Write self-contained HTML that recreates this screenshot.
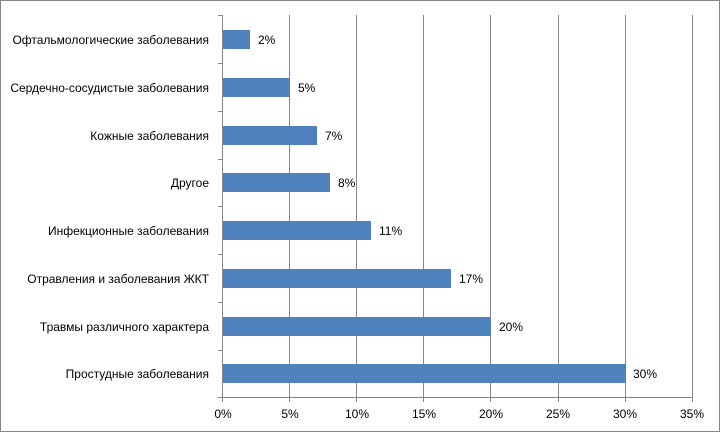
<!DOCTYPE html>
<html><head><meta charset="utf-8"><style>
body{margin:0;background:#fff}
svg{display:block;font-family:"Liberation Sans",sans-serif;font-size:12px}
</style></head><body>
<svg width="721" height="433" xmlns="http://www.w3.org/2000/svg">
<rect x="0.5" y="0.5" width="719" height="431" fill="#fff" stroke="#868686"/>
<g stroke="#868686" stroke-width="1">
<line x1="289.5" y1="15" x2="289.5" y2="402"/>
<line x1="356.5" y1="15" x2="356.5" y2="402"/>
<line x1="423.5" y1="15" x2="423.5" y2="402"/>
<line x1="490.5" y1="15" x2="490.5" y2="402"/>
<line x1="558.5" y1="15" x2="558.5" y2="402"/>
<line x1="625.5" y1="15" x2="625.5" y2="402"/>
<line x1="692.5" y1="15" x2="692.5" y2="402"/>
<line x1="222.5" y1="15" x2="222.5" y2="402"/>
<line x1="218" y1="397.5" x2="692.5" y2="397.5"/>
<line x1="218" y1="15.5" x2="222" y2="15.5"/>
<line x1="218" y1="63.5" x2="222" y2="63.5"/>
<line x1="218" y1="111.5" x2="222" y2="111.5"/>
<line x1="218" y1="159.5" x2="222" y2="159.5"/>
<line x1="218" y1="206.5" x2="222" y2="206.5"/>
<line x1="218" y1="254.5" x2="222" y2="254.5"/>
<line x1="218" y1="302.5" x2="222" y2="302.5"/>
<line x1="218" y1="350.5" x2="222" y2="350.5"/>
</g>
<g fill="#4f81bd">
<rect x="223" y="30" width="27" height="19"/>
<rect x="223" y="78" width="67" height="19"/>
<rect x="223" y="126" width="94" height="19"/>
<rect x="223" y="173" width="107" height="19"/>
<rect x="223" y="221" width="148" height="19"/>
<rect x="223" y="269" width="228" height="19"/>
<rect x="223" y="317" width="268" height="19"/>
<rect x="223" y="364" width="403" height="19"/>
</g>
<g fill="#000" text-anchor="end">
<text x="209" y="44">Офтальмологические заболевания</text>
<text x="209" y="92">Сердечно-сосудистые заболевания</text>
<text x="209" y="140">Кожные заболевания</text>
<text x="209" y="187">Другое</text>
<text x="209" y="235">Инфекционные заболевания</text>
<text x="209" y="283">Отравления и заболевания ЖКТ</text>
<text x="209" y="331">Травмы различного характера</text>
<text x="209" y="378">Простудные заболевания</text>
</g>
<g fill="#000">
<text x="258" y="44">2%</text>
<text x="298" y="92">5%</text>
<text x="325" y="140">7%</text>
<text x="338" y="187">8%</text>
<text x="379" y="235">11%</text>
<text x="459" y="283">17%</text>
<text x="499" y="331">20%</text>
<text x="633" y="378">30%</text>
</g>
<g fill="#000" text-anchor="middle">
<text x="223" y="418">0%</text>
<text x="290" y="418">5%</text>
<text x="357" y="418">10%</text>
<text x="424" y="418">15%</text>
<text x="491" y="418">20%</text>
<text x="558" y="418">25%</text>
<text x="625" y="418">30%</text>
<text x="692" y="418">35%</text>
</g>
</svg>
</body></html>
